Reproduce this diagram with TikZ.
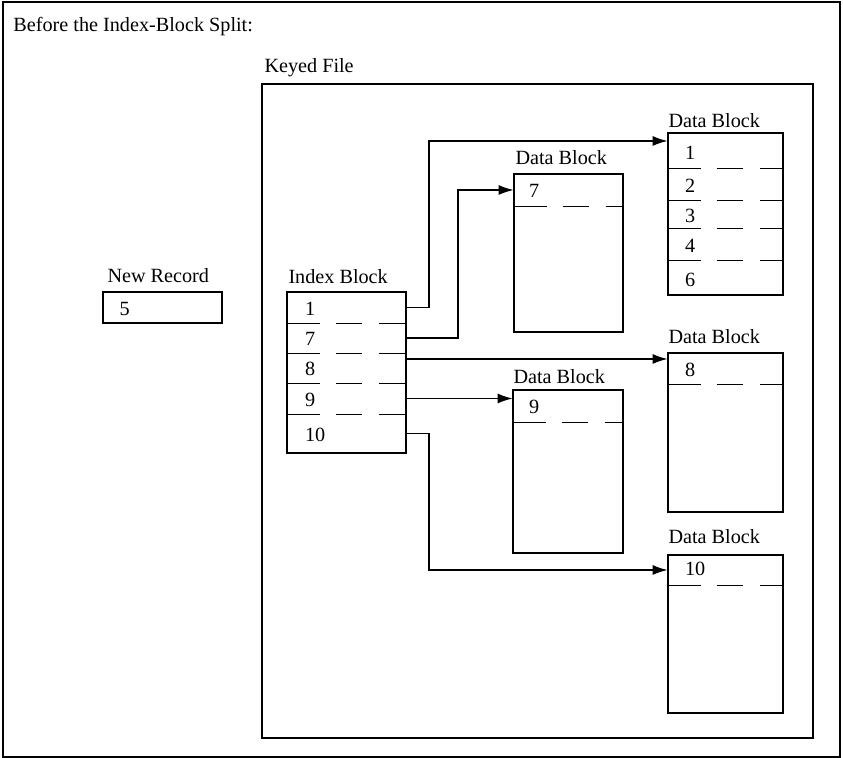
\documentclass[tikz,border=0pt]{standalone}
\usepackage{fontspec}
\setmainfont{Liberation Serif}
\usetikzlibrary{arrows.meta,calc,fit}
\tikzset{
  kasten/.style={draw,line width=0.9pt,inner sep=0pt},
  zeile/.style={inner sep=0pt},
  trenn/.style={line width=0.8pt,dash pattern=on 16.5pt off 8pt on 13pt off 8.5pt on 40pt},
  pfeil/.style={-{Latex[length=7.5pt,width=5pt]},line width=0.65pt},
  rahmen/.style={line width=0.8pt},
  titel/.style={anchor=west,inner sep=0pt},
  eintrag/.style={anchor=west,inner sep=0pt},
}

\begin{document}
\begin{tikzpicture}[x=0.5pt,y=-0.5pt,font=\fontsize{10.1}{12}\selectfont]
  \useasboundingbox (0,0) rectangle (843,758);
  \draw[rahmen] (3,2) rectangle (840,757);
  \node[titel] (ueber) at (13,27) {Before the Index-Block Split:};

  % keyed file
  \node[kasten,fit={(262,84) (813,738)}] (kf) {};
  \node[titel] (kflbl) at ($(kf.north west)+(3,-15)$) {Keyed File};

  % new record
  \node[kasten,fit={(103,292) (222,323)}] (neu) {};
  \node[titel] (neulbl) at ($(neu.north west)+(5,-16)$) {New Record};
  \node[eintrag] (neu5) at ($(neu.west)+(17,1)$) {5};

  % index block
  \node[kasten,fit={(287,292) (406,453)}] (idx) {};
  \node[titel] (idxlbl) at ($(idx.north west)+(2,-15)$) {Index Block};
  \foreach \n/\oben/\unten/\txt in {1/292/323/1,2/323/353/7,3/353/383/8,4/383/414/9,5/414/453/10}{
    \node[zeile,fit={(287,\oben) (406,\unten)}] (i\n) {};
    \node[eintrag] (i\n t) at ($(i\n.west)+(18,1)$) {\txt};
  }
  \foreach \n in {1,...,4} \draw[trenn] (i\n.south west) -- (i\n.south east);

  % data blocks
  \node[kasten,fit={(668,133) (783,295)}] (da) {};
  \node[titel] (dalbl) at ($(da.north west)+(1,-12)$) {Data Block};
  \foreach \n/\oben/\unten/\txt in {1/133/168/1,2/168/200/2,3/200/228/3,4/228/260/4,5/260/295/6}{
    \node[zeile,fit={(668,\oben) (783,\unten)}] (a\n) {};
    \node[eintrag] (a\n t) at ($(a\n.west)+(17,2)$) {\txt};
  }
  \foreach \n in {1,...,4} \draw[trenn] (a\n.south west) -- (a\n.south east);

  \node[kasten,fit={(514,174) (623,332)}] (db) {};
  \node[titel] (dblbl) at ($(db.north west)+(2,-16)$) {Data Block};
  \node[zeile,fit={(514,174) (623,206)}] (b1) {};
  \node[eintrag] (b1t) at ($(b1.west)+(15,1)$) {7};
  \draw[trenn] (b1.south west) -- (b1.south east);

  \node[kasten,fit={(668,353) (783,512)}] (dc) {};
  \node[titel] (dclbl) at ($(dc.north west)+(1,-16)$) {Data Block};
  \node[zeile,fit={(668,353) (783,384)}] (c1) {};
  \node[eintrag] (c1t) at ($(c1.west)+(17,1)$) {8};
  \draw[trenn] (c1.south west) -- (c1.south east);

  \node[kasten,fit={(513,390) (623,553)}] (dd) {};
  \node[titel] (ddlbl) at ($(dd.north west)+(1,-13)$) {Data Block};
  \node[zeile,fit={(513,390) (623,422)}] (d1) {};
  \node[eintrag] (d1t) at ($(d1.west)+(16,1)$) {9};
  \draw[trenn] (d1.south west) -- (d1.south east);

  \node[kasten,fit={(668,555) (783,713)}] (de) {};
  \node[titel] (delbl) at ($(de.north west)+(1,-18)$) {Data Block};
  \node[zeile,fit={(668,555) (783,585)}] (e1) {};
  \node[eintrag] (e1t) at ($(e1.west)+(17,-1)$) {10};
  \draw[trenn] (e1.south west) -- (e1.south east);

  % pointers
  \coordinate (s1) at (429,0);
  \coordinate (s2) at (458,0);
  \coordinate (i3a) at ([yshift=4.5pt]i3.east);
  \coordinate (a1a) at ([yshift=4.75pt]a1.west);
  \draw[pfeil] (i1.east) -- (i1.east -| s1) |- (a1a);
  \draw[pfeil] (i2.east) -- (i2.east -| s2) |- (b1.west);
  \draw[pfeil] (i3a) -- (i3a -| c1.west);
  \draw[pfeil] (i4.east) -- (i4.east -| d1.west);
  \draw[pfeil] (i5.east) -- (i5.east -| s1) |- (e1.west);
\end{tikzpicture}
\end{document}
